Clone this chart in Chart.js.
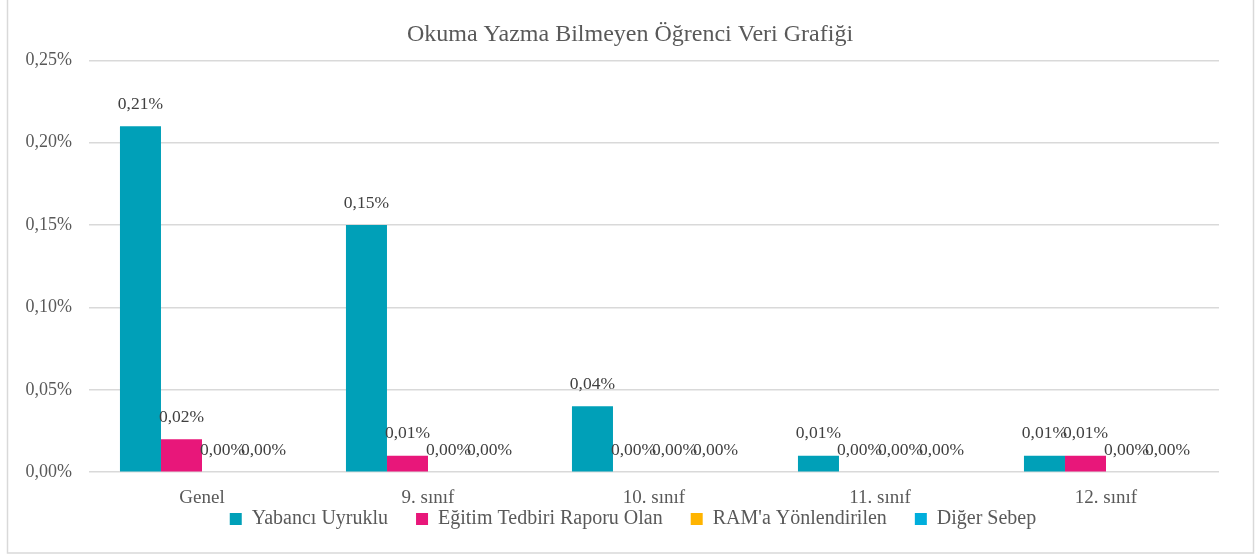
<!DOCTYPE html>
<html><head><meta charset="utf-8">
<script src="https://cdn.jsdelivr.net/npm/chart.js@4.4.0/dist/chart.umd.min.js"></script>
<style>html,body{margin:0;padding:0;background:#fff;overflow:hidden}#wrap{width:1260px;height:555px}</style>
</head><body><div id="wrap"><canvas id="c" width="1260" height="555"></canvas></div>
<script>
const categories = ['Genel', '9. sınıf', '10. sınıf', '11. sınıf', '12. sınıf'];
const seriesNames = ['Yabancı Uyruklu', 'Eğitim Tedbiri Raporu Olan', "RAM'a Yönlendirilen", 'Diğer Sebep'];
const yabanciUyruklu = [0.21, 0.15, 0.04, 0.01, 0.01];
const egitimTedbiri = [0.02, 0.01, 0.00, 0.00, 0.01];
const ramYonlendirilen = [0.00, 0.00, 0.00, 0.00, 0.00];
const digerSebep = [0.00, 0.00, 0.00, 0.00, 0.00];
const yMin = 0, yMax = 0.25, yStep = 0.05;
const colors = ['#00A0B8', '#E8177A', '#FFB400', '#00AEDC'];

const FONT = "'Liberation Serif', serif";
const fmt = v => v.toFixed(2).replace('.', ',') + '%';

const layoutPlugin = {
  id: 'frame',
  beforeLayout(chart) {
    const lg = chart.legend;
    if (lg && !lg._patched) {
      const f = lg.fit;
      lg.fit = function () { f.call(this); this.height = 40; };
      lg._patched = true;
    }
  },
  afterLayout(chart) {
    const lg = chart.legend;
    if (lg) { lg.left = 3; lg.right = chart.width + 3; lg.top = 481; lg.bottom = chart.height; lg.height = lg.bottom - lg.top; }
    const t = chart.titleBlock;
    if (t) { t.left = 0; t.right = chart.width; }
  },
  beforeDraw(chart) {
    const c = chart.ctx; c.save();
    c.fillStyle = '#fff'; c.fillRect(0, 0, chart.width, chart.height);
    c.strokeStyle = '#d9d9d9'; c.lineWidth = 1.5;
    c.strokeRect(7.5, -2, 1246, 555);
    c.restore();
  }
};
const labelPlugin = {
  id: 'valueLabels',
  afterDatasetsDraw(chart) {
    const c = chart.ctx; c.save();
    c.font = '17.5px ' + FONT; c.fillStyle = '#404040';
    c.textAlign = 'center'; c.textBaseline = 'middle';
    chart.data.datasets.forEach((ds, i) => {
      chart.getDatasetMeta(i).data.forEach((bar, j) => {
        c.fillText(fmt(ds.data[j]), bar.x, bar.y - 22);
      });
    });
    c.restore();
  }
};

const seriesData = [yabanciUyruklu, egitimTedbiri, ramYonlendirilen, digerSebep];
new Chart(document.getElementById('c'), {
  type: 'bar',
  data: {
    labels: categories,
    datasets: seriesNames.map((n, i) => ({
      label: n, data: seriesData[i], backgroundColor: colors[i], borderWidth: 0,
      categoryPercentage: 0.726, barPercentage: 1
    }))
  },
  options: {
    responsive: false, animation: false, devicePixelRatio: 1,
    layout: { padding: { left: 0, right: 41, top: 0, bottom: 0 } },
    plugins: {
      title: { display: true, text: 'Okuma Yazma Bilmeyen Öğrenci Veri Grafiği',
        color: '#595959', font: { family: FONT, size: 24, weight: 'normal' },
        padding: { top: 20, bottom: 11.5 } },
      legend: { position: 'bottom',
        labels: { boxWidth: 12, boxHeight: 12, padding: 28, color: '#595959',
          font: { family: FONT, size: 20 } } },
      tooltip: { enabled: false }
    },
    scales: {
      x: { grid: { display: false }, border: { display: false },
        ticks: { color: '#595959', font: { family: FONT, size: 19 }, padding: 6 } },
      y: { min: yMin, max: yMax, afterFit(s) { s.width = 89; },
        grid: { color: '#d9d9d9', lineWidth: 1.5, drawTicks: false },
        border: { display: false },
        ticks: { stepSize: yStep, color: '#595959', padding: 17,
          font: { family: FONT, size: 18 }, callback: v => fmt(v) } }
    }
  },
  plugins: [layoutPlugin, labelPlugin]
});
</script></body></html>
